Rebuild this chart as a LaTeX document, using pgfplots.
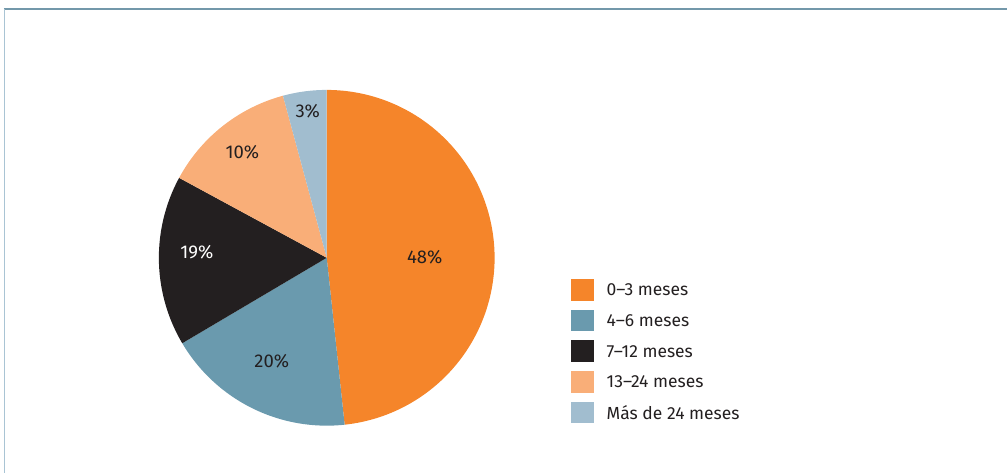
\documentclass[border=0pt]{standalone}
\usepackage{pgfplots}
\pgfplotsset{compat=1.18}
\usepackage{fontspec}
\setmainfont{Fira Sans}
\definecolor{cA}{HTML}{F5852A}
\definecolor{cB}{HTML}{6A9AAE}
\definecolor{cC}{HTML}{231F20}
\definecolor{cD}{HTML}{F9AE78}
\definecolor{cE}{HTML}{A1BDCF}
\definecolor{txt}{HTML}{231F20}
\definecolor{frameT}{HTML}{7398AA}
\definecolor{frameL}{HTML}{A9C4D4}
% slice sizes (share of the circle, in percent) as drawn
\def\vA{48.3}\def\vB{18.2}\def\vC{16.4}\def\vD{12.9}\def\vE{4.2}
\pgfmathsetmacro\aO{90}
\pgfmathsetmacro\aA{\aO-3.6*\vA}
\pgfmathsetmacro\aB{\aA-3.6*\vB}
\pgfmathsetmacro\aC{\aB-3.6*\vC}
\pgfmathsetmacro\aD{\aC-3.6*\vD}
\pgfmathsetmacro\aE{\aD-3.6*\vE}
\def\cx{327}\def\cy{215}\def\rr{168}
\begin{document}
\begin{tikzpicture}
\begin{axis}[
  scale only axis, width=1008bp, height=473bp,
  xmin=0, xmax=1008, ymin=0, ymax=473,
  axis lines=none, clip=false,
  samples=120, variable=\t,
  legend style={draw=none, fill=none, at={(axis cs:571,194)}, anchor=north west,
    inner sep=0pt, row sep=9bp, font=\fontsize{17.5bp}{20bp}\selectfont\color{txt},
    nodes={inner sep=0pt, text depth=0pt}},
  legend cell align=left,
  legend image code/.code={\fill[#1] (0bp,-10.85bp) rectangle (23bp,10.85bp);},
  legend columns=1,
]
\path (axis cs:0,0) rectangle (axis cs:1008,473);
\draw[frameT, line width=1.6bp] (axis cs:4,464) -- (axis cs:1008,464);
\draw[frameL, line width=1.6bp] (axis cs:4.5,0) -- (axis cs:4.5,464);
\addplot[fill=cA, draw=none, domain=\aO:\aA] ({\cx+\rr*cos(\t)},{\cy+\rr*sin(\t)}) -- (axis cs:\cx,\cy) -- cycle;
\addlegendentry{\hspace{13bp}0–3 meses}
\addplot[fill=cB, draw=none, domain=\aA:\aB] ({\cx+\rr*cos(\t)},{\cy+\rr*sin(\t)}) -- (axis cs:\cx,\cy) -- cycle;
\addlegendentry{\hspace{13bp}4–6 meses}
\addplot[fill=cC, draw=none, domain=\aB:\aC] ({\cx+\rr*cos(\t)},{\cy+\rr*sin(\t)}) -- (axis cs:\cx,\cy) -- cycle;
\addlegendentry{\hspace{13bp}7–12 meses}
\addplot[fill=cD, draw=none, domain=\aC:\aD] ({\cx+\rr*cos(\t)},{\cy+\rr*sin(\t)}) -- (axis cs:\cx,\cy) -- cycle;
\addlegendentry{\hspace{13bp}13–24 meses}
\addplot[fill=cE, draw=none, domain=\aD:\aE] ({\cx+\rr*cos(\t)},{\cy+\rr*sin(\t)}) -- (axis cs:\cx,\cy) -- cycle;
\addlegendentry{\hspace{13bp}Más de 24 meses}
\begin{scope}[every node/.style={font=\fontsize{18.5bp}{20bp}\selectfont, text=txt, inner sep=0pt}]
\node at (axis cs:425,216) {48\%};
\node at (axis cs:272,112) {20\%};
\node[text=white] at (axis cs:197,221) {19\%};
\node at (axis cs:242.5,321) {10\%};
\node at (axis cs:308,362) {3\%};
\end{scope}
\end{axis}
\end{tikzpicture}
\end{document}
